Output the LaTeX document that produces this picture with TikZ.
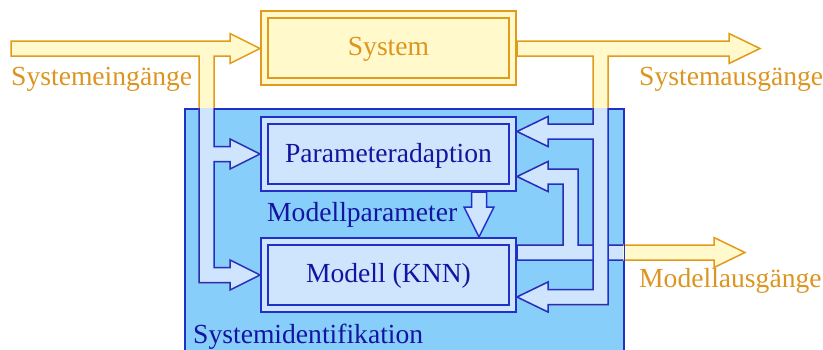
\documentclass[tikz,border=0pt]{standalone}
\usepackage{fontspec}
\setmainfont{Liberation Serif}
\definecolor{yfill}{HTML}{FFF9CC}
\definecolor{ybord}{HTML}{E29A1A}
\definecolor{ytext}{HTML}{DC9520}
\definecolor{bbox}{HTML}{87CEFA}
\definecolor{bfill}{HTML}{CEE5FD}
\definecolor{bbord}{HTML}{2030C8}
\definecolor{btext}{HTML}{1414A0}
\newcommand*\pathSysIn{(11,41) -- (230,41) -- (230,33.5) -- (260,48.5) -- (230,63.5) -- (230,56) -- (214,56) -- (214,146.5) -- (230,146.5) -- (230,139) -- (260,154) -- (230,169) -- (230,161.5) -- (214,161.5) -- (214,267.5) -- (230,267.5) -- (230,260) -- (260,275) -- (230,290) -- (230,282.5) -- (199,282.5) -- (199,56) -- (11,56) -- cycle}
\newcommand*\pathSysOut{(517,41) -- (729,41) -- (729,33.5) -- (760,48.5) -- (729,63.5) -- (729,56) -- (608,56) -- (608,304.5) -- (548,304.5) -- (548,312) -- (517,297) -- (548,282) -- (548,289.5) -- (593,289.5) -- (593,139) -- (548,139) -- (548,146.5) -- (517,131.5) -- (548,116.5) -- (548,124) -- (593,124) -- (593,56) -- (517,56) -- cycle}
\newcommand*\pathMdlOut{(517,260) -- (714,260) -- (714,267.5) -- (745,252.5) -- (714,237.5) -- (714,245) -- (578,245) -- (578,169) -- (548,169) -- (548,161.5) -- (517,176.5) -- (548,191.5) -- (548,184) -- (563,184) -- (563,245) -- (517,245) -- cycle}
\newcommand*\pathParam{(471.5,192) -- (471.5,207) -- (464,207) -- (479,237) -- (494,207) -- (486.5,207) -- (486.5,192) -- cycle}
\tikzset{
  yarrow/.style={draw=ybord, fill=yfill, line width=1.5pt, line join=miter},
  barrow/.style={draw=bbord, fill=bfill, line width=1.5pt, line join=miter},
  ybox/.style={draw=ybord, line width=2pt, double=yfill, double distance=5pt, fill=yfill, minimum width=248pt, minimum height=67pt, inner sep=0pt},
  bbx/.style={draw=bbord, line width=2pt, double=bfill, double distance=5pt, fill=bfill, minimum width=248pt, minimum height=67pt, inner sep=0pt},
  lbl/.style={font=\fontsize{27.6}{32}\selectfont, inner sep=0pt},
}
\begin{document}
\begin{tikzpicture}[x=1pt, y=-1pt]
\useasboundingbox (0,0) rectangle (823,349);
% Systemidentifikation region
\node[draw=bbord, fill=bbox, line width=1.5pt, minimum width=439pt, minimum height=250pt, inner sep=0pt, anchor=north west] (sid) at (184,108) {};
% arrows, outer (yellow) look
\draw[yarrow] \pathMdlOut;
\draw[yarrow] \pathSysOut;
\draw[yarrow] \pathSysIn;
% arrows inside region (blue look)
\begin{scope}
  \clip (184,108) rectangle (623,360);
  \draw[barrow] \pathMdlOut;
  \draw[barrow] \pathSysOut;
  \draw[barrow] \pathSysIn;
  \draw[barrow] \pathParam;
\end{scope}
\draw[draw=bbord, line width=1.5pt] (sid.north east) -- (sid.south east);
% boxes
\node[ybox] (sys) at (388.5,48) {};
\node[bbx] (par) at (388.5,154) {};
\node[bbx] (mod) at (388.5,275) {};
% texts
\node[lbl, text=ytext, anchor=base] (tsys) at (388.5,55.5) {System};
\node[lbl, text=btext, anchor=base] (tpar) at (388.5,162) {Parameteradaption};
\node[lbl, text=btext, anchor=base] (tmod) at (388.5,282) {Modell (KNN)};
\node[lbl, text=ytext, anchor=base west] (tin) at (11,85.5) {Systemeingänge};
\node[lbl, text=ytext, anchor=base west] (tout) at (639,85.5) {Systemausgänge};
\node[lbl, text=ytext, anchor=base west] (tmout) at (639,287) {Modellausgänge};
\node[lbl, text=btext, anchor=base west] (tmp) at (267,221) {Modellparameter};
\node[lbl, text=btext, anchor=base west] (tsid) at (193,343) {Systemidentifikation};
\end{tikzpicture}
\end{document}
